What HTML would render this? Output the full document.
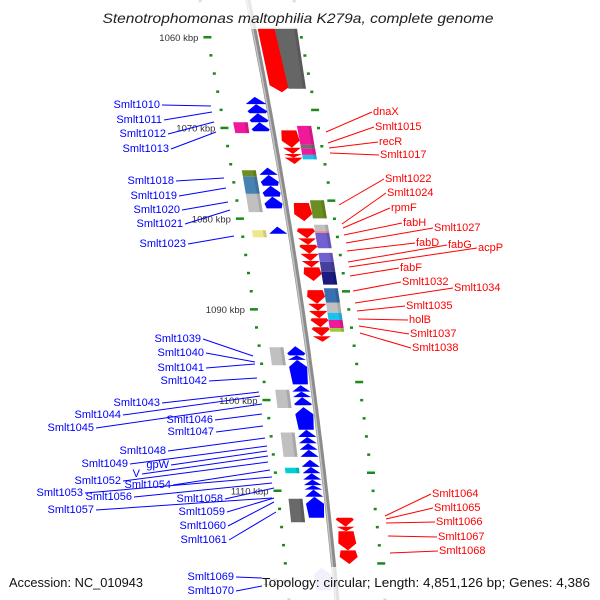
<!DOCTYPE html>
<html><head><meta charset="utf-8">
<style>
html,body{margin:0;padding:0;background:#fff;}
svg{display:block;font-family:"Liberation Sans",sans-serif;}
</style></head>
<body>
<svg id="map" width="600" height="600" viewBox="0 0 600 600" xmlns="http://www.w3.org/2000/svg">
<g id="ticks"></g>
<path id="backbone" fill="none" stroke="#8c8c8c" stroke-width="5"/>
<path id="backbone2" fill="none" stroke="#c4c4c4" stroke-width="1.5"/>
<g id="genes"></g>
<rect x="0" y="0" width="600" height="29" fill="#fff" opacity="0.8"/>
<rect x="0" y="567" width="600" height="33" fill="#fff" opacity="0.75"/>
<g id="labels"></g>
<text x="298" y="23" text-anchor="middle" font-size="14" font-style="italic" fill="#222" textLength="391" lengthAdjust="spacingAndGlyphs">Stenotrophomonas maltophilia K279a, complete genome</text>
<text x="9" y="587" font-size="13" fill="#111" textLength="134" lengthAdjust="spacingAndGlyphs">Accession: NC_010943</text>
<text x="262" y="587" font-size="13" fill="#111" textLength="328" lengthAdjust="spacingAndGlyphs">Topology: circular; Length: 4,851,126 bp; Genes: 4,386</text>
</svg>
<script>
// gene data (kbp)
const fwdStart=[1059.0,1070.3,1072.2,1072.9,1073.3,1078.3,1081.1,1082.2,1082.9,1083.9,1084.7,1085.4,1087.9,1089.4,1090.2,1091.0,1092.0,1093.0,1113.0,1114.0,1114.5,1116.6];
const fwdEnd=  [1066.1,1072.2,1072.9,1073.3,1074.0,1080.3,1082.2,1082.9,1083.9,1084.7,1085.4,1086.9,1089.4,1090.2,1091.0,1092.0,1093.0,1093.6,1114.0,1114.5,1116.6,1118.1];
const revStart=[1066.6,1067.4,1068.4,1069.4,1074.4,1075.2,1076.4,1077.6,1080.9,1094.1,1095.1,1095.6,1098.4,1099.1,1099.7,1100.8,1103.3,1104.1,1104.8,1105.5,1106.6,1107.4,1108.1,1108.8,1109.4,1109.9,1110.7,1118.5];
const revEnd=  [1067.4,1068.4,1069.4,1070.4,1075.2,1076.4,1077.6,1078.9,1081.7,1095.1,1095.6,1098.3,1099.1,1099.7,1100.6,1103.3,1104.1,1104.8,1105.5,1106.3,1107.4,1108.1,1108.8,1109.4,1109.9,1110.7,1113.0,1121.0];
const cogFwdStart=[1059.0,1069.8,1071.9,1072.3,1073.0,1078.0,1080.7,1081.4,1081.6,1083.8,1084.8,1085.9,1087.7,1089.3,1090.4,1091.2,1092.1];
const cogFwdEnd=  [1065.7,1071.9,1072.3,1073.0,1073.5,1080.0,1081.4,1081.6,1083.3,1084.8,1085.9,1087.3,1089.3,1090.4,1091.2,1092.1,1092.5];
const cogFwdColor=["#666666","#f0199a","#707070","#f0199a","#22bde8","#6b8e23","#c0c0c0","#ff8080","#7060d0","#7060d0","#46409a","#1a1a80","#3a6fb0","#c0c0c0","#1ec0f0","#f0199a","#9acd32"];
const cogRevStart=[1069.4,1074.7,1075.4,1077.3,1081.3,1094.2,1098.9,1103.6,1107.5,1110.9];
const cogRevEnd=  [1070.6,1075.4,1077.3,1079.3,1082.1,1096.2,1100.9,1106.3,1108.1,1113.5];
const cogRevColor=["#f0199a","#6b8e23","#4682b4","#c0c0c0","#f0e68c","#c0c0c0","#c0c0c0","#c0c0c0","#00ced1","#696969"];
const kbpTicks=[1060,1070,1080,1090,1100,1110,1120];

const NS="http://www.w3.org/2000/svg";
const toY=k=>37+(k-1060)*9.07;
const bx=y=>252+0.178*(y-20)-0.0000902*(y-20)*(y-250);
const wS=y=>1+Math.max(0,130-y)*0.006;
const oS=y=>1;
function mk(tag,attrs,parent){const e=document.createElementNS(NS,tag);for(const a in attrs)e.setAttribute(a,attrs[a]);parent.appendChild(e);return e;}

let d="";for(let y=-5;y<=605;y+=5){d+=(y===-5?"M":"L")+bx(y).toFixed(1)+","+y;}
document.getElementById("backbone").setAttribute("d",d);
let d2="";for(let y=-5;y<=605;y+=5){d2+=(y===-5?"M":"L")+(bx(y)-1.2).toFixed(1)+","+y;}
document.getElementById("backbone2").setAttribute("d",d2);

const tg=document.getElementById("ticks");
for(let k=1056;k<=1124;k+=2){
  const major=k%10===0;
  const y=toY(k);
  const xl=bx(y)-48;
  const t=mk("rect",{x:(xl-(major?4:1.5)).toFixed(1),y:(y-1).toFixed(1),width:major?8:3,height:2.5,fill:"#1b8a1b"},tg);
  
  
  const yr=y-18;
  const xr=bx(yr)+46+Math.max(0,yr-100)*0.004;
  const t2=mk("rect",{x:(xr-(major?4:1.5)).toFixed(1),y:(yr-1).toFixed(1),width:major?8:3,height:2.5,fill:"#1b8a1b"},tg);
  
  
}
kbpTicks.forEach(k=>{
  const y=toY(k);
  const t=mk("text",{x:(bx(y)-57).toFixed(1),y:(y+4).toFixed(1),"font-size":"9.5","text-anchor":"end",fill:"#333"},tg);
  t.textContent=k===1120?"112":k+" kbp";
  
  
});

const gg=document.getElementById("genes");
function arrow(k1,k2,off,w,color,dir,name){
  const y1=toY(k1),y2=toY(k2);
  const L=y=>bx(y)+off*oS(y)-w*wS(y)/2, R=y=>bx(y)+off*oS(y)+w*wS(y)/2, C=y=>bx(y)+off*oS(y);
  const h=Math.min(7,y2-y1);
  let pts;
  if(dir>0){const yh=y2-h;pts=[[L(y1),y1],[R(y1),y1],[R(yh)+1.5,yh],[C(y2),y2],[L(yh)-1.5,yh]];}
  else{const yh=y1+h;pts=[[C(y1),y1],[R(yh)+1.5,yh],[R(y2),y2],[L(y2),y2],[L(yh)-1.5,yh]];}
  const p=mk("polygon",{points:pts.map(q=>q[0].toFixed(1)+","+q[1].toFixed(1)).join(" "),fill:color},gg);
  
  
}
function box(k1,k2,off,w,color,name){
  const y1=toY(k1),y2=toY(k2);
  const L=y=>bx(y)+off*oS(y)-w*wS(y)/2, R=y=>bx(y)+off*oS(y)+w*wS(y)/2;
  const p=mk("polygon",{points:[[L(y1),y1],[R(y1),y1],[R(y2),y2],[L(y2),y2]].map(q=>q[0].toFixed(1)+","+q[1].toFixed(1)).join(" "),fill:color},gg);
  
  
  const s=mk("polygon",{points:[[R(y1)-3,y1],[R(y1),y1],[R(y2),y2],[R(y2)-3,y2]].map(q=>q[0].toFixed(1)+","+q[1].toFixed(1)).join(" "),fill:"#000",opacity:"0.12"},gg);
  
  
}
fwdStart.forEach((s,i)=>arrow(s,fwdEnd[i],16,15,"#ff0000",1,"forward-cds"));
revStart.forEach((s,i)=>arrow(s,revEnd[i],-12,15,i===revStart.length-1?"#c8c8f4":"#0000ff",-1,"reverse-cds"));
cogFwdStart.forEach((s,i)=>box(s,cogFwdEnd[i],32,14,cogFwdColor[i],"forward-cog"));
cogRevStart.forEach((s,i)=>box(s,cogRevEnd[i],-31,14,cogRevColor[i],"reverse-cog"));

const leftLabels=[
["Smlt1010",160,104,211,106],["Smlt1011",162,119,212,112],["Smlt1012",166,133,214,122],["Smlt1013",169,148,216,132],
["Smlt1018",174,180,224,178],["Smlt1019",177,195,226,188],["Smlt1020",180,209,228,202],["Smlt1021",183,223,230,210],["Smlt1023",186,243,234,236],
["Smlt1039",201,338,253,356],["Smlt1040",204,352,255,362],["Smlt1041",204,367,255,364],["Smlt1042",207,380,257,378],
["Smlt1043",160,402,259,392],["Smlt1044",121,414,260,396],["Smlt1045",94,427,262,404],["Smlt1046",213,419,262,414],["Smlt1047",214,431,263,426],
["Smlt1048",166,450,265,438],["Smlt1049",128,463,267,446],["gpW",169,464,267,451],["V",140,473,268,456],["Smlt1052",121,480,268,462],
["Smlt1054",171,484,270,470],["Smlt1053",83,492,272,477],["Smlt1056",132,496,272,483],["Smlt1058",223,498,274,488],["Smlt1057",94,509,272,498],
["Smlt1059",225,511,274,498],["Smlt1060",226,525,274,502],["Smlt1061",227,539,276,512],["Smlt1069",234,576,262,578],["Smlt1070",234,590,262,586]];
const rightLabels=[
["dnaX",373,111,326,132],["Smlt1015",375,126,328,143],["recR",379,141,329,148],["Smlt1017",380,154,330,153],
["Smlt1022",385,178,339,205],["Smlt1024",387,192,342,224],["rpmF",391,207,343,228],["fabH",403,222,344,235],["Smlt1027",434,227,346,243],
["fabD",416,242,347,251],["fabG",448,244,348,262],["acpP",478,247,349,267],["fabF",400,267,350,276],["Smlt1032",402,281,353,291],
["Smlt1034",454,287,355,303],["Smlt1035",406,305,357,311],["holB",409,319,358,319],["Smlt1037",410,333,359,326],["Smlt1038",412,347,360,333],
["Smlt1064",432,493,385,516],["Smlt1065",434,507,386,519],["Smlt1066",436,521,386,523],["Smlt1067",438,536,388,536],["Smlt1068",439,550,390,553]];
const lg=document.getElementById("labels");
leftLabels.forEach(l=>{
  const ln=mk("line",{x1:l[1]+2,y1:l[2]+1,x2:l[3],y2:l[4],stroke:"#0000ff","stroke-width":"1"},lg);
  
  
  const t=mk("text",{x:l[1],y:l[2]+4,"font-size":"11","text-anchor":"end",fill:"#0000ff"},lg);
  t.textContent=l[0];
  
  
});
rightLabels.forEach(l=>{
  const ln=mk("line",{x1:l[3],y1:l[4],x2:l[1]-1,y2:l[2]+1,stroke:"#ff0000","stroke-width":"1"},lg);
  
  
  const t=mk("text",{x:l[1],y:l[2]+4,"font-size":"11","text-anchor":"start",fill:"#ff0000"},lg);
  t.textContent=l[0];
  
  
});
</script>
</body></html>
